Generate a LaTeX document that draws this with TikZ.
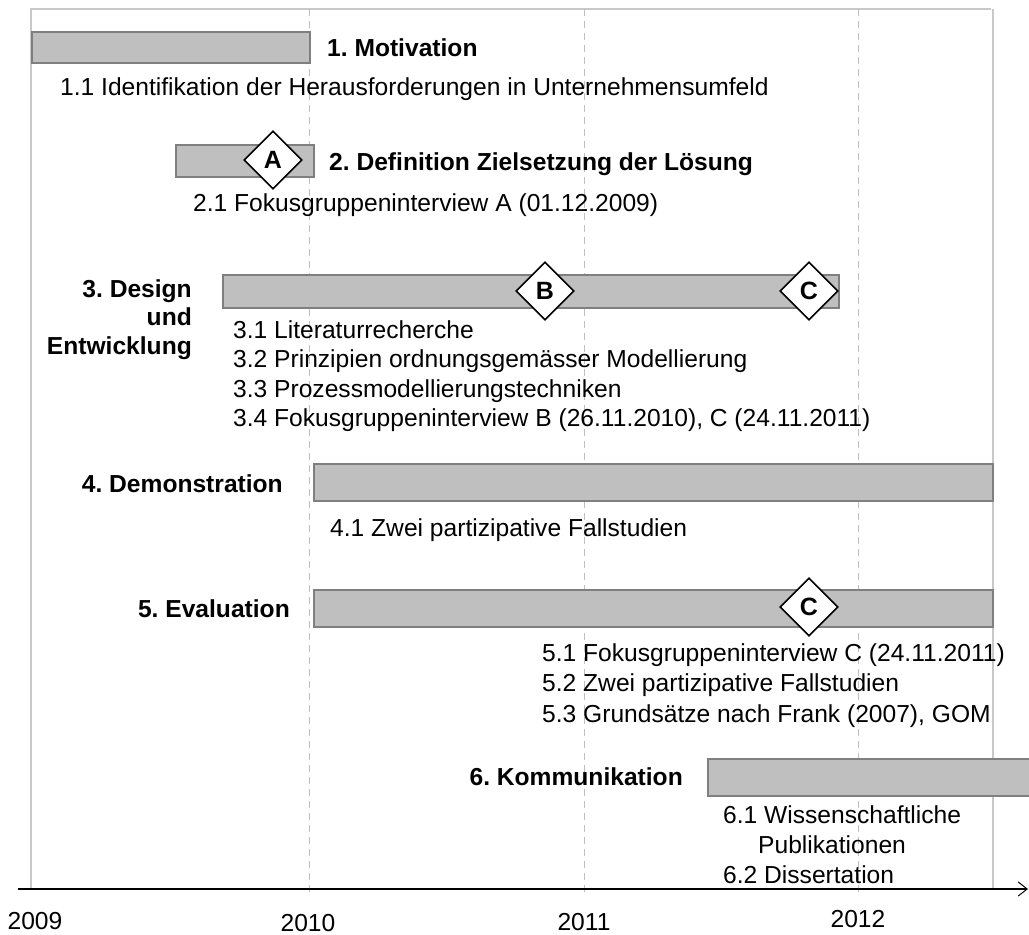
\documentclass[tikz,border=0pt]{standalone}
\usepackage{fontspec}
\setmainfont{Liberation Sans}
\usetikzlibrary{shapes.geometric,arrows.meta}
\definecolor{barfill}{HTML}{BFBFBF}
\definecolor{barline}{HTML}{7F7F7F}
\definecolor{gridline}{HTML}{C8C8C8}
\definecolor{dashline}{HTML}{BFBFBF}
\frenchspacing
\begin{document}
\begin{tikzpicture}[x=1pt,y=-1pt,
  txt/.style={font=\fontsize{24.6}{29.5}\selectfont, inner sep=0pt},
  head/.style={inner sep=0pt, font=\fontsize{24.6}{28.5}\selectfont\bfseries},
  bar/.style={draw=barline, fill=barfill, line width=1.5pt, inner sep=0pt, anchor=north west},
  milestone/.style={diamond, draw=black, fill=white, line width=1.6pt,
    minimum width=58pt, minimum height=58pt, inner sep=0pt,
    font=\fontsize{25}{28}\selectfont\bfseries},
  frame/.style={draw=gridline, line width=1.5pt},
  yearline/.style={draw=dashline, line width=1pt, dash pattern=on 7pt off 5pt},
  axis/.style={draw=black, line width=1.2pt, -{Straight Barb[length=9pt,width=14pt,line width=1pt]}},
]
\useasboundingbox (0,0) rectangle (1029,935);

% outer frame and year grid
\draw[frame] (31,890) -- (31,9) -- (991,9);
\draw[frame] (993,9) -- (993,890);
\draw[yearline] (309,9) -- (309,897);
\draw[yearline] (584,9) -- (584,897);
\draw[yearline] (858,9) -- (858,897);

% time axis
\coordinate (axisstart) at (18,889);
\coordinate (axisend) at (1028,889);
\draw[axis] (axisstart) -- (axisend);

% phase bars
\node[bar, minimum width=278pt, minimum height=31pt] (bar1) at (31,31) {};
\node[bar, minimum width=138pt, minimum height=32pt] (bar2) at (175,144) {};
\node[bar, minimum width=616pt, minimum height=33pt] (bar3) at (222,274) {};
\node[bar, minimum width=679pt, minimum height=37pt] (bar4) at (313,463) {};
\node[bar, minimum width=679pt, minimum height=37pt] (bar5) at (313,589) {};
\node[bar, minimum width=340pt, minimum height=37pt] (bar6) at (707,758) {};

% milestones
\node[milestone] (msA) at (273,160) {A};
\node[milestone] (msB) at (545,291) {B};
\node[milestone] (msC) at (809,291) {C};
\node[milestone] (msCeval) at (809,607) {C};

% phase titles
\node[head, anchor=base west] (h1) at (327,56) {1. Motivation};
\node[head, anchor=base west] (h2) at (329,170) {2. Definition Zielsetzung der Lösung};
\node[head, align=right, anchor=north east] (h3) at (192,279.3) {3. Design\\und\\Entwicklung};
\node[head, anchor=base east] (h4) at (283,492) {4. Demonstration};
\node[head, anchor=base east] (h5) at (290,617) {5. Evaluation};
\node[head, anchor=base east] (h6) at (683,785) {6. Kommunikation};

% activities
\node[txt, anchor=base west] (a1) at (60,95) {1.1 Identifikation der Herausforderungen in Unternehmensumfeld};
\node[txt, anchor=base west] (a2) at (193,211) {2.1 Fokusgruppeninterview A (01.12.2009)};
\node[txt, align=left, anchor=north west, font=\fontsize{24.6}{29.4}\selectfont] (a3) at (233,320.2)
  {3.1 Literaturrecherche\\3.2 Prinzipien ordnungsgemässer Modellierung\\3.3 Prozessmodellierungstechniken\\3.4 Fokusgruppeninterview B (26.11.2010), C (24.11.2011)};
\node[txt, anchor=base west] (a4) at (330,536) {4.1 Zwei partizipative Fallstudien};
\node[txt, align=left, anchor=north west, font=\fontsize{24.6}{30.5}\selectfont] (a5) at (542,643.2)
  {5.1 Fokusgruppeninterview C (24.11.2011)\\5.2 Zwei partizipative Fallstudien\\5.3 Grundsätze nach Frank (2007), GOM};
\node[txt, align=left, anchor=north west, font=\fontsize{24.6}{30}\selectfont] (a6) at (723,805.2)
  {6.1 Wissenschaftliche\\\hspace*{35pt}Publikationen\\6.2 Dissertation};

% year labels
\node[txt, anchor=base] (y2009) at (35,929) {2009};
\node[txt, anchor=base] (y2010) at (308,931.5) {2010};
\node[txt, anchor=base] (y2011) at (584,930) {2011};
\node[txt, anchor=base] (y2012) at (858,927) {2012};
\end{tikzpicture}
\end{document}
